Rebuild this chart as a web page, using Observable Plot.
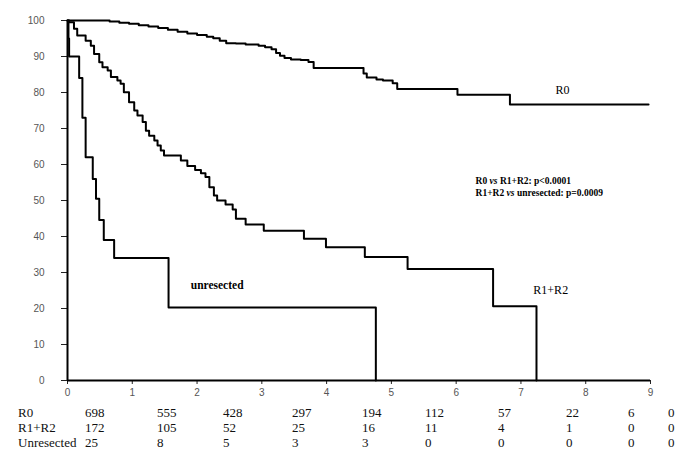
<!DOCTYPE html>
<html>
<head>
<meta charset="utf-8">
<script src="https://cdn.jsdelivr.net/npm/d3@7"></script>
<script src="https://cdn.jsdelivr.net/npm/@observablehq/plot@0.6"></script>
<style>
  html, body { margin: 0; padding: 0; background: #fff; font-family: 'Liberation Serif', serif; }
  #chart { width: 685px; }
  table.risk { border-collapse: collapse; table-layout: fixed; margin-left: 18px; margin-top: 5px; color: #111; }
  table.risk td { padding: 0; line-height: 15px; height: 15px; white-space: nowrap; text-align: left;
                  font-family: 'Liberation Serif', 'Times New Roman', serif !important; font-size: 13px; }
</style>
</head>
<body>
<div id="chart"></div>
<script>
// ---- Kaplan–Meier step data (years, % surviving) ----
const r0Time = [0, 0.65, 0.8, 0.95, 1.1, 1.25, 1.4, 1.55, 1.7, 1.85, 2.0, 2.15, 2.25, 2.35, 2.45, 2.6, 2.75, 2.95, 3.05, 3.15, 3.22, 3.28, 3.35, 3.45, 3.6, 3.72, 3.8, 4.57, 4.62, 4.77, 4.87, 5.02, 5.09, 6.02, 6.83, 8.97];
const r0Surv = [100, 99.7, 99.4, 99.1, 98.7, 98.3, 97.9, 97.4, 96.9, 96.4, 96.0, 95.5, 95.1, 94.4, 93.7, 93.6, 93.3, 93.0, 92.6, 92.0, 91.0, 90.2, 89.6, 89.2, 89.0, 88.5, 86.8, 85.3, 84.2, 83.6, 83.3, 82.6, 81.0, 79.4, 76.7, 76.7];

const r12Time = [0, 0.025, 0.1, 0.15, 0.28, 0.36, 0.41, 0.49, 0.54, 0.62, 0.67, 0.77, 0.82, 0.87, 0.95, 1.03, 1.08, 1.16, 1.21, 1.26, 1.34, 1.39, 1.44, 1.49, 1.75, 1.85, 1.97, 2.06, 2.13, 2.19, 2.26, 2.31, 2.44, 2.55, 2.6, 2.75, 3.03, 3.65, 3.99, 4.59, 5.25, 6.57, 7.24];
const r12Surv = [100, 99.5, 97.7, 95.8, 94.4, 93.0, 90.7, 88.4, 87.0, 86.1, 84.3, 83.3, 82.4, 80.1, 77.3, 75.0, 73.6, 71.8, 69.4, 68.0, 66.7, 65.3, 63.9, 62.5, 61.1, 59.6, 58.5, 57.6, 56.5, 53.7, 51.4, 50.0, 48.9, 47.5, 44.9, 43.3, 41.6, 39.4, 37.0, 34.3, 31.0, 20.6, 0];

const unresTime = [0, 0.015, 0.025, 0.18, 0.23, 0.28, 0.39, 0.44, 0.49, 0.56, 0.72, 1.56, 4.76];
const unresSurv = [100, 95, 90, 84, 73, 62, 56, 50.5, 44.6, 39, 34, 20.3, 0];

// ---- annotations ----
const curveLabels = ["R0", "R1+R2"];
const curveLabelX = [7.64, 7.46];
const curveLabelY = [80.6, 25];
const unresLabel = "unresected";
const unresLabelX = 2.31;
const unresLabelY = 26.4;
const pLines = ["R0 vs R1+R2: p<0.0001", "R1+R2 vs unresected: p=0.0009"];
const pX = 6.3;
const pY = [55.3, 52];

// ---- axis ticks ----
const yTicks = [0, 10, 20, 30, 40, 50, 60, 70, 80, 90, 100];
const xTicks = [0, 1, 2, 3, 4, 5, 6, 7, 8, 9];

// ---- numbers at risk ----
const riskGroups = ["R0", "R1+R2", "Unresected"];
const riskR0 = [698, 555, 428, 297, 194, 112, 57, 22, 6, 0];
const riskR12 = [172, 105, 52, 25, 16, 11, 4, 1, 0, 0];
const riskUnres = [25, 8, 5, 3, 3, 0, 0, 0, 0, 0];

const toPts = (t, s, g) => t.map((d, i) => ({time: d, surv: s[i], group: g}));
const r0 = toPts(r0Time, r0Surv, "R0");
const r12 = toPts(r12Time, r12Surv, "R1+R2");
const unres = toPts(unresTime, unresSurv, "unresected");

const serif = "'Liberation Serif', 'Times New Roman', serif";

const chart = Plot.plot({
  width: 685,
  height: 400,
  marginLeft: 67,
  marginRight: 35,
  marginTop: 20,
  marginBottom: 20,
  style: {background: "#fff", fontFamily: "'Liberation Sans', Arial, sans-serif"},
  x: {domain: [0, 9]},
  y: {domain: [0, 100]},
  marks: [
    Plot.axisY({ticks: yTicks, tickSize: 6, tickPadding: 17, fontSize: 10, fill: "#555", stroke: "#222", label: null}),
    Plot.axisX({ticks: xTicks, tickSize: 4, tickPadding: 4, fontSize: 10, fill: "#555", stroke: "#222", label: null}),
    Plot.line(r0, {x: "time", y: "surv", curve: "step-after", stroke: "#000", strokeWidth: 2}),
    Plot.line(r12, {x: "time", y: "surv", curve: "step-after", stroke: "#000", strokeWidth: 2}),
    Plot.line(unres, {x: "time", y: "surv", curve: "step-after", stroke: "#000", strokeWidth: 2}),
    Plot.ruleX([0], {y1: 0, y2: 100, stroke: "#000", strokeWidth: 2}),
    Plot.ruleY([0], {x1: 0, x2: 9, stroke: "#000", strokeWidth: 2}),
    Plot.text(curveLabels, {x: (d, i) => curveLabelX[i], y: (d, i) => curveLabelY[i], text: d => d,
      fontFamily: serif, fontSize: 12, fill: "#000", textAnchor: "middle"}),
    Plot.text([unresLabel], {x: unresLabelX, y: unresLabelY, text: d => d,
      fontFamily: serif, fontSize: 11.5, fontWeight: "bold", fill: "#000", textAnchor: "middle"}),
    Plot.text(pLines, {x: pX, y: (d, i) => pY[i], text: d => d,
      fontFamily: serif, fontSize: 9.5, fontWeight: "bold", fill: "#000", textAnchor: "start", className: "pval"})
  ]
});
document.getElementById("chart").appendChild(chart);

// italicise "vs" in the p-value lines (kept as real text)
d3.select(chart).selectAll(".pval text").each(function() {
  const s = this.textContent;
  const parts = s.split(" vs ");
  const el = d3.select(this);
  el.text(null);
  el.append("tspan").text(parts[0] + " ");
  el.append("tspan").attr("font-style", "italic").text("vs");
  el.append("tspan").text(" " + parts[1]);
});

// numbers-at-risk table
const colWidths = [67, 72, 66, 69, 70, 63, 73, 68, 62, 40, 17];
const table = d3.select("body").append("table").attr("class", "risk");
const cg = table.append("colgroup");
colWidths.forEach(w => cg.append("col").style("width", w + "px"));
const tbody = table.append("tbody");
const rows = [riskR0, riskR12, riskUnres];
rows.forEach((vals, r) => {
  const tr = tbody.append("tr");
  tr.append("td").text(riskGroups[r]);
  vals.forEach(v => tr.append("td").text(v));
});
</script>
</body>
</html>
